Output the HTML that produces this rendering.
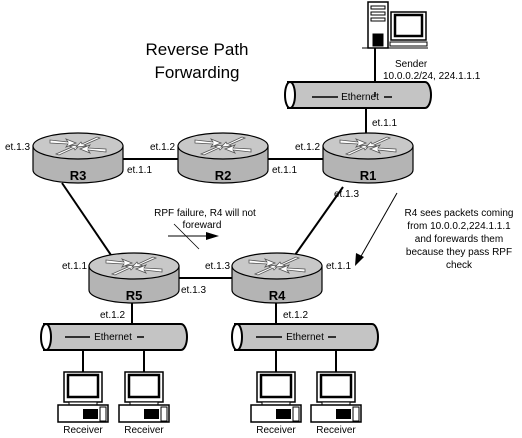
<!DOCTYPE html>
<html><head><style>body{margin:0;background:#fff}svg{display:block}text{font-family:"Liberation Sans",sans-serif;fill:#000}</style></head>
<body>
<svg width="522" height="438" viewBox="0 0 522 438" xmlns="http://www.w3.org/2000/svg">
<defs>
<g id="rt">
<path d="M-45,0 L-45,24 A45,13 0 0 0 45,24 L45,0 Z" fill="#b4b4b4" stroke="#000" stroke-width="1.2"/>
<ellipse cx="0" cy="0" rx="45" ry="13" fill="#c8c8c8" stroke="#000" stroke-width="1.2"/>
<g fill="#fff" stroke="#555" stroke-width="0.8">
<path d="M-28,-6 L-10,-4 L-12,-7 L-2,-3 L-12,1 L-10,-2 L-28,-3 Z"/>
<path d="M28,6 L10,4 L12,7 L2,3 L12,-1 L10,2 L28,3 Z"/>
<path d="M-22,8 L-6,1 L-9,0 L2,-1 L-3,4 L-4,2 L-19,9 Z"/>
<path d="M22,-8 L6,-1 L9,0 L-2,1 L3,-4 L4,-2 L19,-9 Z"/>
</g>
</g>
<g id="tube">
<path d="M0,0 L138,0 A6,13 0 0 1 138,26 L0,26" fill="#c4c4c4" stroke="#000" stroke-width="2"/>
<ellipse cx="3" cy="13" rx="5" ry="13" fill="#fff" stroke="#000" stroke-width="2"/>
</g>
<g id="pc">
<rect x="-19" y="0" width="38" height="30" fill="#fff" stroke="#000" stroke-width="1.5"/>
<rect x="-15" y="3" width="30" height="22" fill="#fff" stroke="#000" stroke-width="2.5"/>
<rect x="-14" y="30" width="28" height="3" fill="#fff" stroke="#000" stroke-width="1"/>
<rect x="-25" y="33" width="50" height="17" fill="#fff" stroke="#000" stroke-width="1.5"/>
<rect x="0" y="37" width="15" height="10" fill="#000"/>
<rect x="17" y="35" width="6" height="14" fill="#fff" stroke="#000"/>
</g>
</defs>
<text x="197" y="55" font-size="17" text-anchor="middle">Reverse Path</text>
<text x="197" y="78" font-size="17" text-anchor="middle">Forwarding</text>
<g stroke="#000" stroke-width="2" fill="none">
<line x1="120" y1="159" x2="185" y2="159"/>
<line x1="265" y1="159" x2="330" y2="159"/>
<line x1="178" y1="278" x2="236" y2="278"/>
<line x1="62" y1="183" x2="113" y2="258"/>
<line x1="343" y1="187" x2="295" y2="255"/>
<line x1="366" y1="105" x2="366" y2="134"/>
<line x1="375" y1="48" x2="375" y2="92"/>
<line x1="132" y1="303" x2="132" y2="330"/>
<line x1="276" y1="303" x2="276" y2="372"/>
<line x1="83" y1="337" x2="83" y2="372"/>
<line x1="144" y1="337" x2="144" y2="372"/>
<line x1="336" y1="337" x2="336" y2="372"/>
</g>
<use href="#rt" x="78" y="146"/>
<use href="#rt" x="223" y="146"/>
<use href="#rt" x="368" y="146"/>
<use href="#rt" x="134" y="266"/>
<use href="#rt" x="277" y="266"/>
<g font-size="13" font-weight="bold" text-anchor="middle">
<text x="78" y="180">R3</text><text x="223" y="180">R2</text><text x="368" y="180">R1</text>
<text x="134" y="300">R5</text><text x="277" y="300">R4</text>
</g>
<use href="#tube" x="287" y="82"/>
<use href="#tube" x="43" y="324"/>
<use href="#tube" x="234" y="324"/>
<g stroke="#000" stroke-width="1.5">
<line x1="312" y1="97" x2="338" y2="97"/><line x1="384" y1="97" x2="392" y2="97"/><line x1="375" y1="92" x2="375" y2="97"/>
<line x1="65" y1="337" x2="90" y2="337"/><line x1="137" y1="337" x2="144" y2="337"/>
<line x1="256" y1="337" x2="282" y2="337"/><line x1="328" y1="337" x2="336" y2="337"/>
</g>
<g font-size="10" text-anchor="middle">
<text x="360" y="100">Ethernet</text>
<text x="113" y="340">Ethernet</text>
<text x="305" y="340">Ethernet</text>
</g>
<g stroke="#000" fill="#fff">
<rect x="368" y="2" width="20" height="46" stroke-width="1.5"/>
<rect x="371" y="6" width="14" height="3"/><rect x="371" y="12" width="14" height="3"/><rect x="371" y="18" width="14" height="3"/>
<rect x="373" y="34" width="10" height="12" fill="#000"/>
<rect x="391" y="12" width="35" height="28" stroke-width="1.5"/>
<rect x="395" y="15" width="27" height="21" stroke-width="2.5"/>
<rect x="390" y="42" width="37" height="4"/>
<line x1="362" y1="48" x2="428" y2="48"/>
</g>
<g font-size="10"><text x="395" y="67">Sender</text><text x="383" y="79">10.0.0.2/24, 224.1.1.1</text></g>
<use href="#pc" x="83" y="372"/><use href="#pc" x="144" y="372"/>
<use href="#pc" x="276" y="372"/><use href="#pc" x="336" y="372"/>
<g font-size="10" text-anchor="middle">
<text x="83" y="433">Receiver</text><text x="144" y="433">Receiver</text>
<text x="276" y="433">Receiver</text><text x="336" y="433">Receiver</text>
</g>
<g font-size="10">
<text x="5" y="150">et.1.3</text><text x="150" y="150">et.1.2</text><text x="127" y="173">et.1.1</text>
<text x="272" y="173">et.1.1</text><text x="295" y="150">et.1.2</text><text x="372" y="126">et.1.1</text>
<text x="334" y="197">et.1.3</text><text x="62" y="269">et.1.1</text><text x="205" y="269">et.1.3</text>
<text x="326" y="269">et.1.1</text><text x="181" y="293">et.1.3</text>
<text x="100" y="318">et.1.2</text><text x="283" y="318">et.1.2</text>
</g>
<g font-size="10" text-anchor="middle"><text x="205" y="216">RPF failure, R4 will not</text><text x="202" y="228">foreward</text></g>
<line x1="168" y1="236" x2="208" y2="236" stroke="#000" stroke-width="1"/>
<path d="M206,232 L219,236 L206,240 Z" fill="#000"/>
<line x1="174" y1="224" x2="199" y2="249" stroke="#000" stroke-width="0.8"/>
<g font-size="10" text-anchor="middle">
<text x="459" y="216">R4 sees packets coming</text>
<text x="459" y="229">from 10.0.0.2,224.1.1.1</text>
<text x="459" y="242">and forewards them</text>
<text x="459" y="255">because they pass RPF</text>
<text x="459" y="268">check</text>
</g>
<line x1="397" y1="193" x2="360" y2="258" stroke="#000" stroke-width="1"/>
<path d="M355,266 L356,253 L364,257 Z" fill="#000"/>
</svg>
</body></html>
